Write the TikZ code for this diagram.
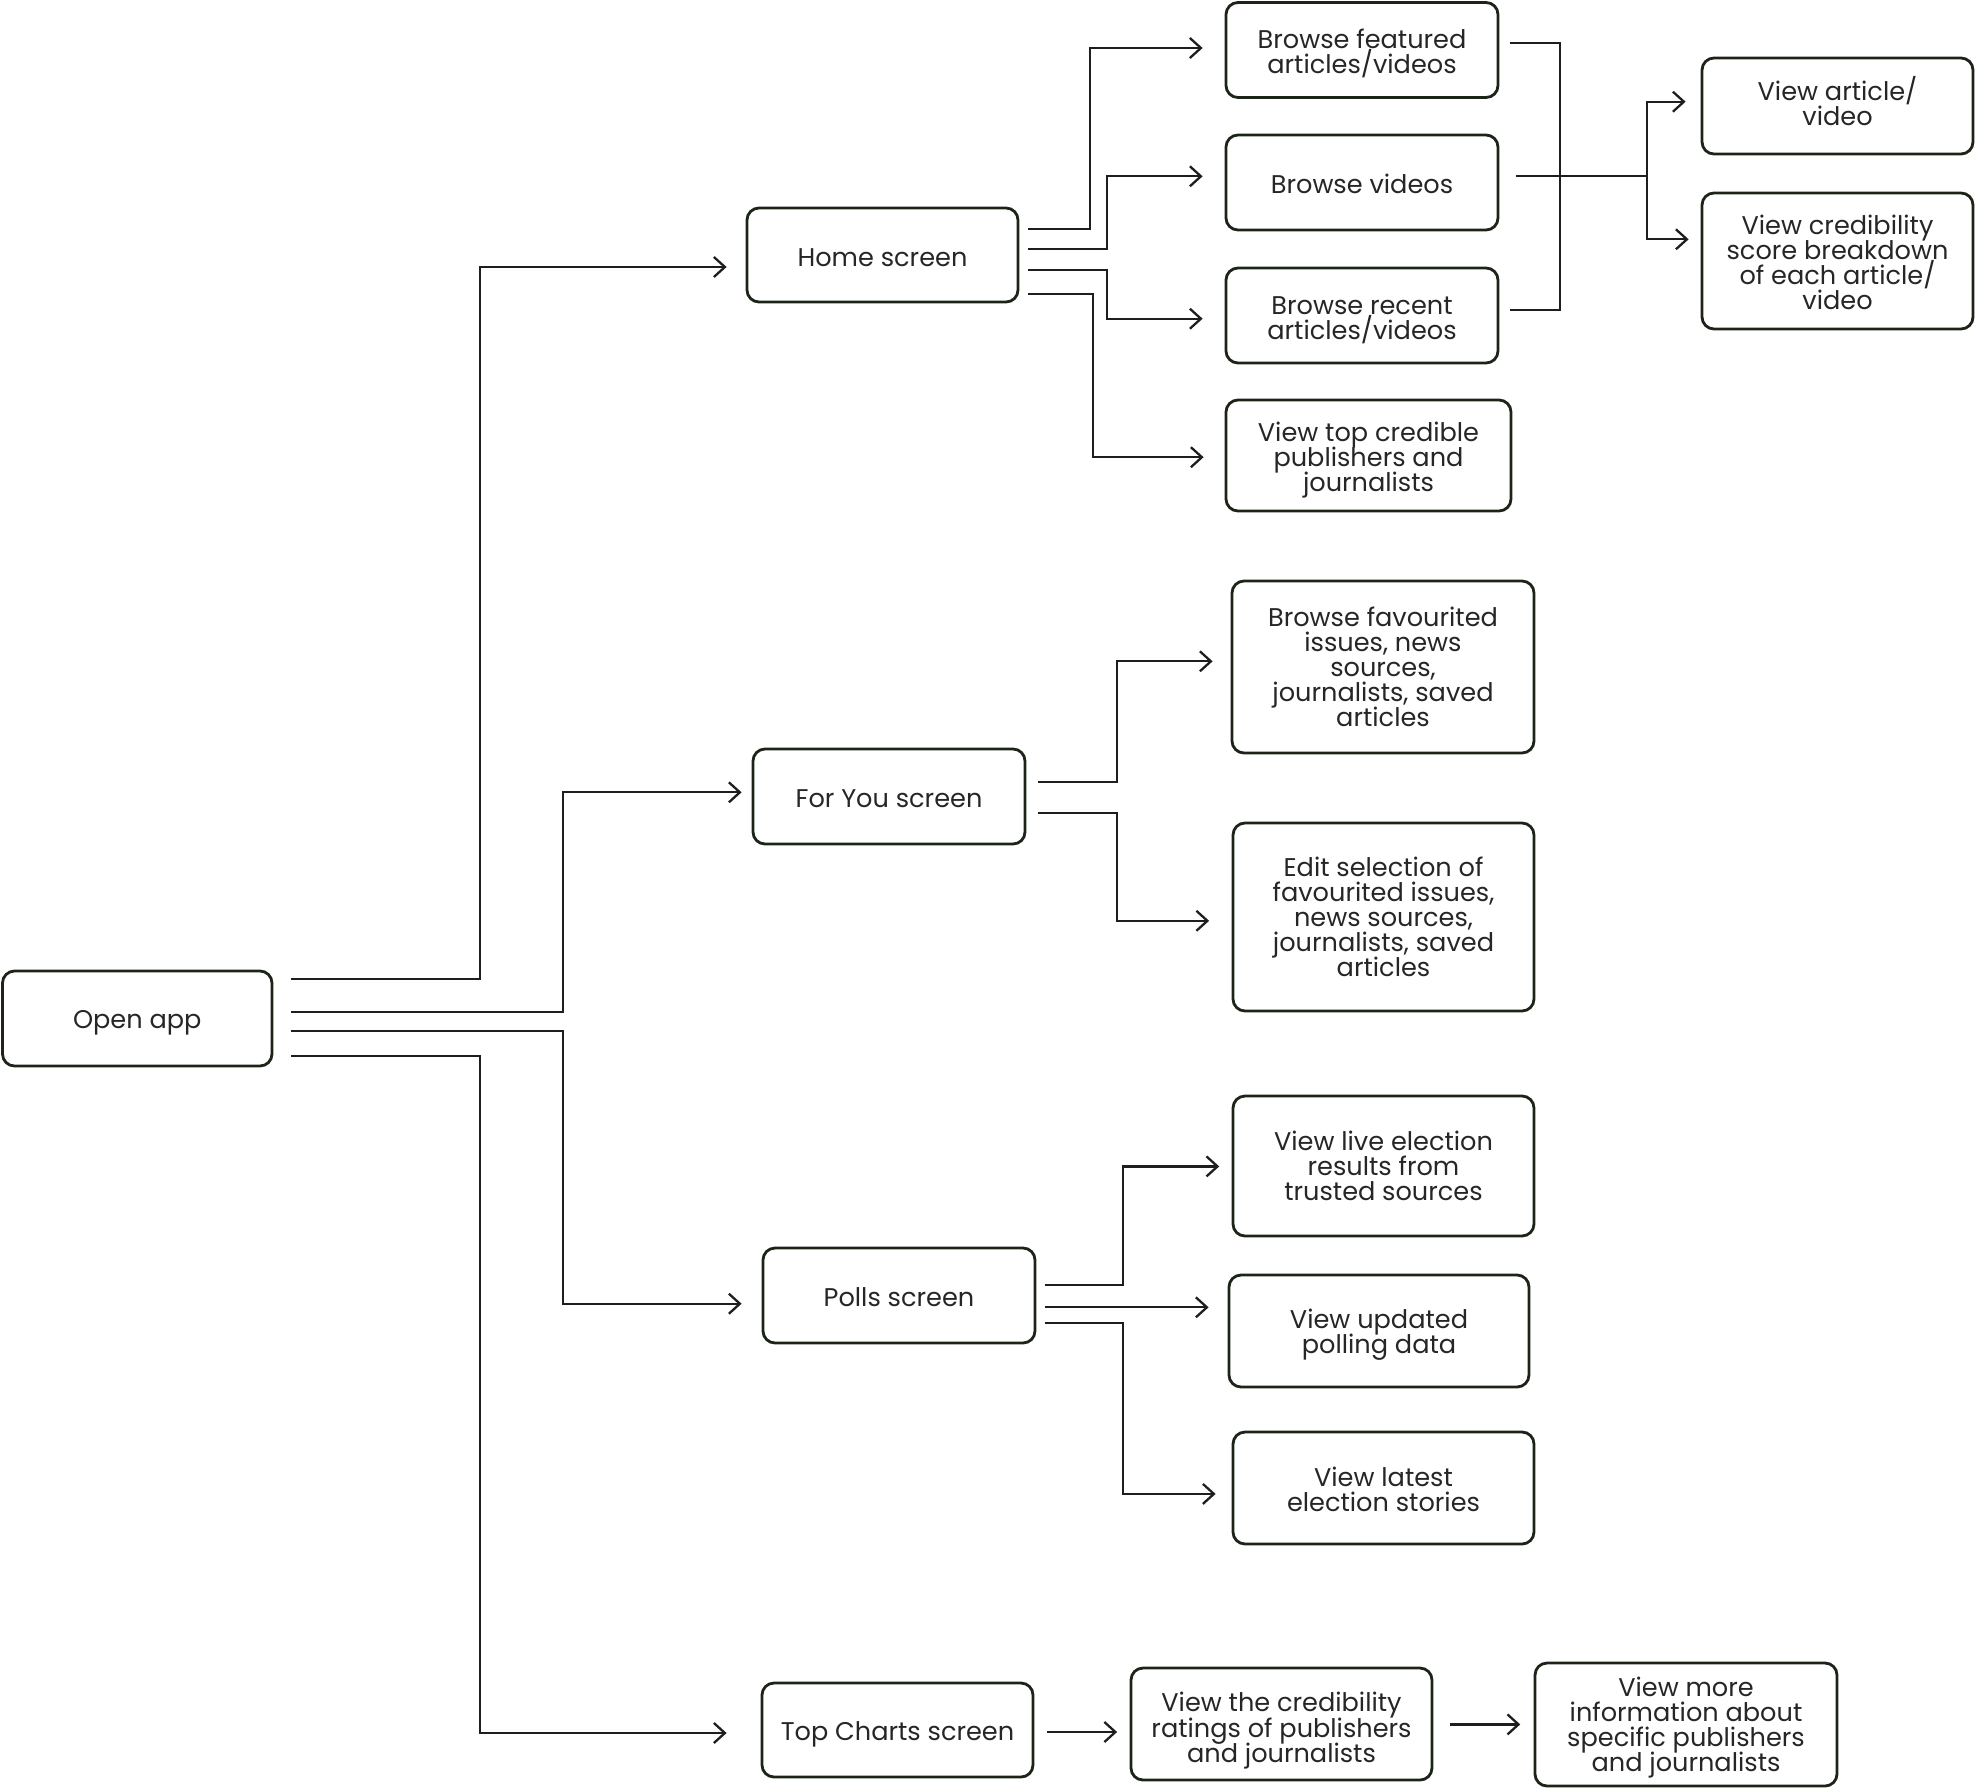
\documentclass[tikz,border=0pt]{standalone}
\usepackage{fontspec}
\setmainfont{Poppins}
\usetikzlibrary{arrows.meta}
\definecolor{bord}{HTML}{1C2418}
\definecolor{txt}{HTML}{262626}
\definecolor{ln}{HTML}{1E1E1E}
\def\bxH{13pt}
\def\bxD{0pt}
\newcommand\bxstart{\lineskiplimit=-20pt\relax\lineskip=0pt\relax\rule{0pt}{\bxH}}
\newcommand\bxend{\rule[-\bxD]{0pt}{\bxD}}
\begin{document}
\begin{tikzpicture}[x=0.5pt,y=-0.5pt,
  box/.style={draw=bord,line width=1.4pt,rounded corners=6pt,align=center,inner sep=0pt,
    text=txt,font=\fontsize{12.8pt}{12.5pt}\selectfont,
    execute at begin node=\bxstart, execute at end node=\bxend},
  tsh/.code={\def\bxH{#1}},
  bsh/.code={\def\bxD{#1}},
  conn/.style={draw=ln,line width=1.15pt},
  arr/.style={conn,-{Straight Barb[length=5.5pt,width=10pt,line width=1.15pt]}}]
\useasboundingbox (0,0) rectangle (1975,1789);
% nodes
\node[box,minimum width=134.75pt,minimum height=47.5pt] (open) at (137.25,1018.5) {Open app};
\node[box,bsh=1.3pt,minimum width=135.5pt,minimum height=47pt] (home) at (882.5,255) {Home screen};
\node[box,bsh=2.5pt,minimum width=136pt,minimum height=47.5pt] (foryou) at (889,796.5) {For You screen};
\node[box,bsh=2.5pt,minimum width=136pt,minimum height=47.5pt] (polls) at (899,1295.5) {Polls screen};
\node[box,tsh=14.3pt,minimum width=135.5pt,minimum height=47pt] (charts) at (897.5,1730) {Top Charts screen};
\node[box,tsh=25.7pt,minimum width=136pt,minimum height=47.5pt] (feat) at (1362,50) {Browse featured\\articles/videos};
\node[box,bsh=2.5pt,minimum width=136pt,minimum height=47.5pt] (vids) at (1362,182.5) {Browse videos};
\node[box,tsh=26.3pt,minimum width=136pt,minimum height=47.5pt] (recent) at (1362,315.5) {Browse recent\\articles/videos};
\node[box,tsh=39.4pt,minimum width=142.5pt,minimum height=55.5pt] (topcred) at (1368.5,455.5) {View top credible\\publishers and\\journalists};
\node[box,bsh=5.1pt,minimum width=135.5pt,minimum height=48pt] (viewart) at (1837.5,106) {View article/\\video};
\node[box,tsh=48.8pt,minimum width=135.5pt,minimum height=68pt] (viewscore) at (1837.5,261) {View credibility\\score breakdown\\of each article/\\video};
\node[box,minimum width=151pt,minimum height=86pt] (fav) at (1383,667) {Browse favourited\\issues, news\\sources,\\journalists, saved\\articles};
\node[box,minimum width=150.5pt,minimum height=94pt] (edit) at (1383.5,917) {Edit selection of\\favourited issues,\\news sources,\\journalists, saved\\articles};
\node[box,minimum width=150.5pt,minimum height=70pt] (live) at (1383.5,1166) {View live election\\results from\\trusted sources};
\node[box,tsh=25.7pt,minimum width=150pt,minimum height=56pt] (updated) at (1379,1331) {View updated\\polling data};
\node[box,tsh=23.2pt,minimum width=150.5pt,minimum height=56pt] (latest) at (1383.5,1488) {View latest\\election stories};
\node[box,tsh=41.3pt,minimum width=150.5pt,minimum height=56pt] (ratings) at (1281.5,1724) {View the credibility\\ratings of publishers\\and journalists};
\node[box,tsh=50.7pt,minimum width=151pt,minimum height=61.5pt] (more) at (1686,1724.5) {View more\\information about\\specific publishers\\and journalists};
% vertical guide lines
\coordinate (vA) at (480,0);
\coordinate (vB) at (563.3,0);
\coordinate (vH1) at (1090,0);
\coordinate (vH2) at (1106.7,0);
\coordinate (vH3) at (1093,0);
\coordinate (vC) at (1560,0);
\coordinate (vD) at (1647.3,0);
\coordinate (vF) at (1117.3,0);
\coordinate (vP) at (1122.7,0);
% Open app -> screens
\coordinate (tHome) at ([shift={(-19,12)}]home.west);
\coordinate (tFor) at ([shift={(-10,-4.2)}]foryou.west);
\coordinate (tPolls) at ([shift={(-20,8.2)}]polls.west);
\coordinate (tCharts) at ([shift={(-34,3)}]charts.west);
\draw[arr] ([shift={(18,-39.2)}]open.east) -| (vA |- tHome) -- (tHome);
\draw[arr] ([shift={(18,-6.8)}]open.east) -| (vB |- tFor) -- (tFor);
\draw[arr] ([shift={(18,12.2)}]open.east) -| (vB |- tPolls) -- (tPolls);
\draw[arr] ([shift={(18,37.5)}]open.east) -| (vA |- tCharts) -- (tCharts);
% Home screen
\coordinate (tFeat) at ([shift={(-22,-2)}]feat.west);
\coordinate (tVids) at ([shift={(-22,-6.2)}]vids.west);
\coordinate (tRecent) at ([shift={(-22,3.2)}]recent.west);
\coordinate (tTop) at ([shift={(-21,1.7)}]topcred.west);
\draw[arr] ([shift={(8.7,-26)}]home.east) -| (vH1 |- tFeat) -- (tFeat);
\draw[arr] ([shift={(8.7,-5.7)}]home.east) -| (vH2 |- tVids) -- (tVids);
\draw[arr] ([shift={(8.7,15)}]home.east) -| (vH2 |- tRecent) -- (tRecent);
\draw[arr] ([shift={(8.7,39.3)}]home.east) -| (vH3 |- tTop) -- (tTop);
% bracket featured / recent
\coordinate (bEnd) at ([shift={(10.3,-5.6)}]recent.east);
\draw[conn] ([shift={(10.3,-7.3)}]feat.east) -| (vC |- bEnd) -- (bEnd);
% videos -> view
\coordinate (vStart) at ([shift={(17,-6.5)}]vids.east);
\coordinate (jn) at (vStart -| vD);
\coordinate (tArt) at ([shift={(-15,-4.3)}]viewart.west);
\coordinate (tScore) at ([shift={(-12,-21.7)}]viewscore.west);
\draw[conn] (vStart) -- (jn);
\draw[arr] (jn) |- (tArt);
\draw[arr] (jn) |- (tScore);
% For You
\coordinate (tFav) at ([shift={(-18,-5.7)}]fav.west);
\coordinate (tEdit) at ([shift={(-22.5,3.8)}]edit.west);
\draw[arr] ([shift={(11.7,-14.8)}]foryou.east) -| (vF |- tFav) -- (tFav);
\draw[arr] ([shift={(11.7,16.2)}]foryou.east) -| (vF |- tEdit) -- (tEdit);
% Polls
\coordinate (tLive) at ([shift={(-12.4,0.4)}]live.west);
\coordinate (tLatest) at ([shift={(-16,5.9)}]latest.west);
\coordinate (pMid) at ([shift={(8.3,11.8)}]polls.east);
\coordinate (uW) at ([xshift=-9.5pt]updated.west);
\draw[arr] ([shift={(8.3,-10.5)}]polls.east) -| (vP |- tLive) -- (tLive);
\draw[arr] (pMid) -- (pMid -| uW);
\draw[arr] ([shift={(8.3,27.8)}]polls.east) -| (vP |- tLatest) -- (tLatest);
% Top charts
\coordinate (cS) at ([shift={(12.5,2)}]charts.east);
\coordinate (rW) at ([xshift=-6.25pt]ratings.west);
\draw[arr] (cS) -- (cS -| rW);
\coordinate (rS) at ([shift={(16.5,0.4)}]ratings.east);
\coordinate (mW) at ([xshift=-6.7pt]more.west);
\draw[arr] (rS) -- (rS -| mW);
\end{tikzpicture}
\end{document}
